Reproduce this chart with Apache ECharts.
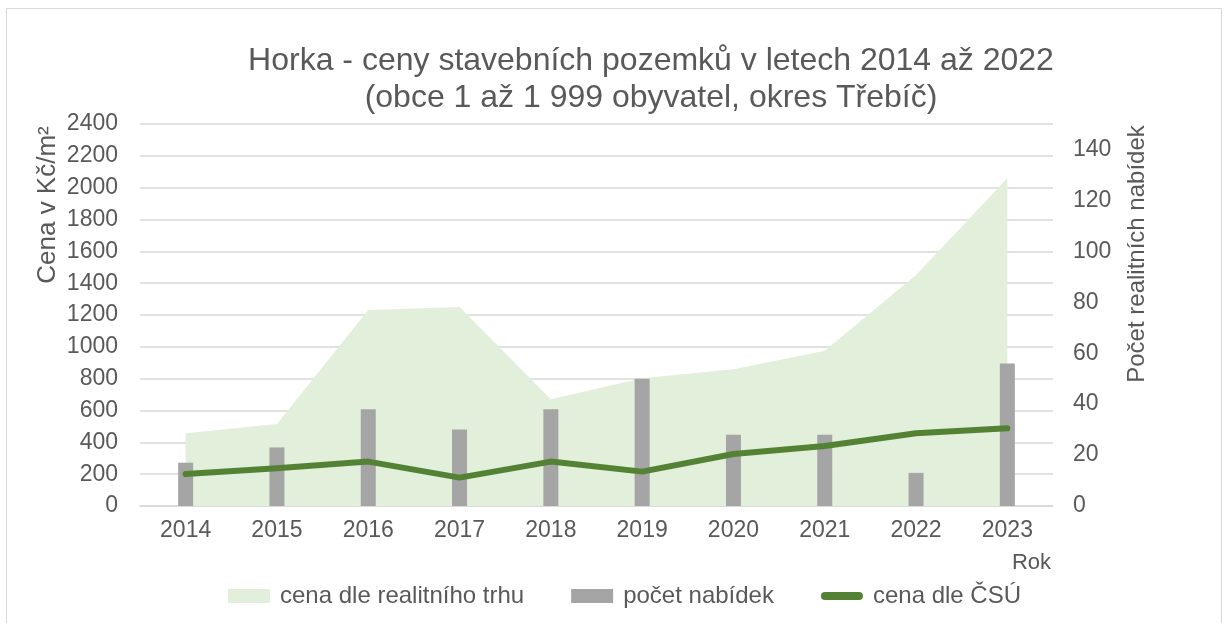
<!DOCTYPE html>
<html>
<head>
    <meta charset="utf-8" />
    <title>Horka</title>
    <script src="https://cdn.jsdelivr.net/npm/echarts@6/dist/echarts.min.js"></script>
    <style>
        body { margin: 0; background: #fff; }
        #main { width: 1229px; height: 623px; }
    </style>
</head>
<body>
    <div id="main"></div>
    <script type="text/javascript">
        // data
        var roky = ['2014', '2015', '2016', '2017', '2018', '2019', '2020', '2021', '2022', '2023'];
        var cenaTrh = [457, 515, 1231, 1250, 670, 802, 859, 976, 1451, 2059];
        var pocetNabidek = [17, 23, 38, 30, 38, 50, 28, 28, 13, 56];
        var cenaCsu = [201, 237, 279, 178, 279, 216, 327, 377, 457, 488];

        var seda = '#595959';
        var myChart = echarts.init(document.getElementById('main'));

        // pill-shaped legend icon for the thick line (invisible corners keep the box size)
        var ikonaCara = 'path://M0,0L0,0.01L0.01,0ZM0,14L0,13.99L0.01,14ZM4,3L38,3A4,4,0,0,1,38,11L4,11A4,4,0,0,1,4,3Z';

        var option = {
            animation: false,
            textStyle: { fontFamily: 'Liberation Sans, Arial, sans-serif' },
            title: {
                text: 'Horka - ceny stavebních pozemků v letech 2014 až 2022\n(obce 1 až 1 999 obyvatel, okres Třebíč)',
                left: 646,
                top: 38,
                textAlign: 'center',
                textStyle: { fontSize: 32, fontWeight: 'normal', color: seda, lineHeight: 37 }
            },
            grid: { left: 140, right: 176, top: 124, bottom: 117 },
            legend: {
                left: 223,
                top: 579,
                itemWidth: 42,
                itemHeight: 14,
                itemGap: 47,
                textStyle: { fontSize: 24, color: seda, padding: [0, 0, 0, 5] },
                data: [
                    { name: 'cena dle realitního trhu', icon: 'rect' },
                    { name: 'počet nabídek', icon: 'rect' },
                    { name: 'cena dle ČSÚ', icon: ikonaCara, itemStyle: { color: '#548235' } }
                ]
            },
            xAxis: {
                type: 'category',
                data: roky,
                axisLine: { lineStyle: { color: '#D9D9D9', width: 1.5 } },
                axisTick: { show: false },
                axisLabel: { fontSize: 23, color: seda, margin: 13 }
            },
            yAxis: [{
                type: 'value',
                min: 0,
                max: 2400,
                interval: 200,
                axisLine: { show: false },
                axisTick: { show: false },
                axisLabel: { fontSize: 23, color: seda, margin: 22, formatter: function (v) { return String(v); } },
                splitLine: { lineStyle: { color: '#D9D9D9', width: 1.5 } }
            }, {
                type: 'value',
                min: 0,
                max: 150,
                interval: 20,
                axisLine: { show: false },
                axisTick: { show: false },
                axisLabel: { fontSize: 23, color: seda, margin: 20, showMaxLabel: false },
                splitLine: { show: false }
            }],
            graphic: [
                {
                    type: 'rect',
                    shape: { x: 6.5, y: 8.5, width: 1215, height: 640 },
                    style: { fill: 'none', stroke: '#D9D9D9', lineWidth: 1 }
                },
                {
                    type: 'text',
                    x: 48,
                    y: 205,
                    rotation: Math.PI / 2,
                    style: { text: 'Cena v Kč/m²', font: '26px Liberation Sans', fill: seda, align: 'center', verticalAlign: 'middle' }
                },
                {
                    type: 'text',
                    x: 1137,
                    y: 254,
                    rotation: Math.PI / 2,
                    style: { text: 'Počet realitních nabídek', font: '24px Liberation Sans', fill: seda, align: 'center', verticalAlign: 'middle' }
                },
                {
                    type: 'text',
                    x: 1051,
                    y: 563,
                    style: { text: 'Rok', font: '22px Liberation Sans', fill: seda, align: 'right', verticalAlign: 'middle' }
                }
            ],
            series: [{
                name: 'cena dle realitního trhu',
                type: 'line',
                data: cenaTrh,
                symbol: 'none',
                z: 1,
                itemStyle: { color: '#E2EFDA' },
                lineStyle: { width: 0, opacity: 0 },
                areaStyle: { color: '#E2EFDA', opacity: 1 }
            }, {
                name: 'počet nabídek',
                type: 'bar',
                yAxisIndex: 1,
                data: pocetNabidek,
                barWidth: 15,
                z: 3,
                itemStyle: { color: '#A5A5A5' }
            }, {
                name: 'cena dle ČSÚ',
                type: 'line',
                data: cenaCsu,
                symbol: 'none',
                z: 4,
                itemStyle: { color: '#548235' },
                lineStyle: { color: '#548235', width: 6, cap: 'round', join: 'round' }
            }]
        };

        myChart.setOption(option);
    </script>
</body>
</html>
